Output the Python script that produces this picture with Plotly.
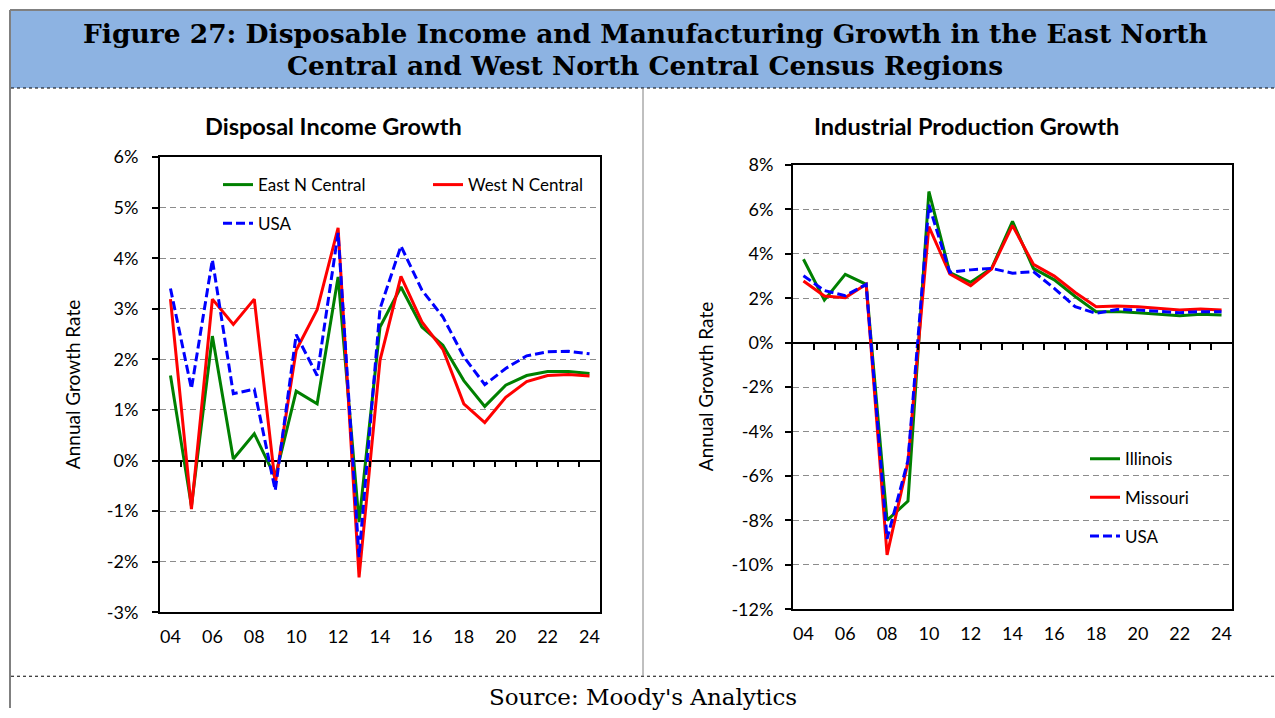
import plotly.graph_objects as go

# ---------------- data ----------------
years = list(range(2004, 2025))
tick_years = list(range(2004, 2025, 2))
tick_labels = ["04", "06", "08", "10", "12", "14", "16", "18", "20", "22", "24"]

# Disposable income growth, % (left panel)
east_n_central = [1.68, -0.90, 2.46, 0.03, 0.53, -0.33, 1.37, 1.12, 3.63, -1.22, 2.64,
                  3.43, 2.64, 2.28, 1.58, 1.07, 1.49, 1.68, 1.76, 1.76, 1.72]
west_n_central = [3.19, -0.96, 3.19, 2.69, 3.19, -0.46, 2.18, 2.98, 4.60, -2.31, 1.98,
                  3.64, 2.74, 2.20, 1.12, 0.75, 1.25, 1.56, 1.68, 1.70, 1.67]
usa_income = [3.40, 1.42, 3.97, 1.32, 1.41, -0.59, 2.49, 1.68, 4.50, -1.91, 3.00,
              4.24, 3.37, 2.84, 2.05, 1.50, 1.82, 2.07, 2.15, 2.16, 2.11]

# Industrial production growth, % (right panel)
illinois = [3.76, 1.92, 3.08, 2.63, -8.00, -7.13, 6.81, 3.16, 2.72, 3.35, 5.46,
            3.35, 2.83, 2.08, 1.40, 1.40, 1.35, 1.28, 1.22, 1.28, 1.25]
missouri = [2.78, 2.10, 2.03, 2.63, -9.55, -5.37, 5.23, 3.10, 2.57, 3.32, 5.28,
            3.53, 3.00, 2.26, 1.62, 1.65, 1.62, 1.55, 1.47, 1.52, 1.47]
usa_ip = [3.02, 2.35, 2.12, 2.63, -8.83, -5.30, 6.21, 3.17, 3.28, 3.35, 3.13,
          3.20, 2.45, 1.62, 1.32, 1.50, 1.47, 1.40, 1.35, 1.40, 1.40]

inc_ticks = list(range(-3, 7))
ip_ticks = list(range(-12, 9, 2))

title_l1 = "Figure 27: Disposable Income and Manufacturing Growth in the East North"
title_l2 = "Central and West North Central Census Regions"
left_title = "Disposal Income Growth"
right_title = "Industrial Production Growth"
y_title = "Annual Growth Rate"
source_text = "Source: Moody's Analytics"

# ---------------- layout helpers ----------------
W, H = 1275, 718
# the page capture adds a small top offset and vertical squeeze; compensate so that
# pixel targets (measured on the reference) land where intended
V_OFF, V_SCALE = 12.0, 0.969


def fx(p):
    return p / W


def fy(p):
    return 1 - ((p - V_OFF) / V_SCALE) / H


GREEN, RED, BLUE = "#008000", "#FF0000", "#0000FF"
FONT = "Lato"
SERIF = "DejaVu Serif"

left_dx = [fx(160), fx(600)]
left_dy = [fy(612), fy(157)]
right_dx = [fx(793), fx(1232)]
right_dy = [fy(609), fy(165)]
inc_range = [-3, 6]
ip_range = [-12, 8]
x_range = [years[0] - 0.5, years[-1] + 0.5]
boundaries = [y + 0.5 for y in years[:-1]]


def zero_pos(dom, rng):
    return dom[0] + (0 - rng[0]) / (rng[1] - rng[0]) * (dom[1] - dom[0])


fig = go.Figure()

dash_usa = "9px,4px"
LW = 3

fig.add_trace(go.Scatter(x=years, y=east_n_central, name="East N Central", mode="lines",
                         line=dict(color=GREEN, width=LW), xaxis="x", yaxis="y",
                         legend="legend", legendgroup="a"))
fig.add_trace(go.Scatter(x=years, y=west_n_central, name="West N Central", mode="lines",
                         line=dict(color=RED, width=LW), xaxis="x", yaxis="y",
                         legend="legend2", legendgroup="b"))
fig.add_trace(go.Scatter(x=years, y=usa_income, name="USA", mode="lines",
                         line=dict(color=BLUE, width=LW, dash=dash_usa), xaxis="x3", yaxis="y",
                         legend="legend", legendgroup="c"))

fig.add_trace(go.Scatter(x=years, y=illinois, name="Illinois", mode="lines",
                         line=dict(color=GREEN, width=LW), xaxis="x2", yaxis="y2",
                         legend="legend3", legendgroup="d"))
fig.add_trace(go.Scatter(x=years, y=missouri, name="Missouri", mode="lines",
                         line=dict(color=RED, width=LW), xaxis="x2", yaxis="y2",
                         legend="legend3", legendgroup="e"))
fig.add_trace(go.Scatter(x=years, y=usa_ip, name="USA", mode="lines",
                         line=dict(color=BLUE, width=LW, dash=dash_usa), xaxis="x4", yaxis="y2",
                         legend="legend3", legendgroup="f"))

tickfont = dict(family=FONT, size=18, color="#000000")


def xaxis_cfg(dom, anchor):
    return dict(domain=dom, anchor=anchor, range=x_range, tickvals=tick_years, ticktext=tick_labels,
                showline=True, mirror=True, linecolor="#000000", linewidth=2, ticks="",
                showgrid=False, zeroline=False, tickfont=tickfont, ticklabelstandoff=7)


def yaxis_cfg(dom, anchor, rng, ticks, standoff):
    return dict(domain=dom, anchor=anchor, range=rng, tickvals=ticks,
                ticktext=[f"{t}%" for t in ticks],
                showline=True, mirror=True, linecolor="#000000", linewidth=2,
                ticks="outside", ticklen=6, tickwidth=1.5, tickcolor="#000000",
                showgrid=True, gridcolor="#8c8c8c", gridwidth=1.2, griddash="6px,4px",
                zeroline=True, zerolinecolor="#000000", zerolinewidth=2,
                tickfont=tickfont, ticklabelstandoff=standoff)


def tickmark_axis(overlay, dom, rng):
    return dict(overlaying=overlay, anchor="free", position=zero_pos(dom, rng), range=x_range,
                tickvals=boundaries, ticks="outside", ticklen=6, tickwidth=1.5, tickcolor="#000000",
                showticklabels=False, showline=False, showgrid=False, zeroline=False, side="bottom")


legend_common = dict(bgcolor="rgba(0,0,0,0)", borderwidth=0, xanchor="left", yanchor="top",
                     font=dict(family=FONT, size=17, color="#000000"), tracegroupgap=13.5,
                     orientation="v")

fig.update_layout(
    width=W, height=H,
    margin=dict(l=0, r=0, t=0, b=0),
    paper_bgcolor="white", plot_bgcolor="white",
    xaxis=xaxis_cfg(left_dx, "y"),
    yaxis=yaxis_cfg(left_dy, "x", inc_range, inc_ticks, 10),
    xaxis2=xaxis_cfg(right_dx, "y2"),
    yaxis2=yaxis_cfg(right_dy, "x2", ip_range, ip_ticks, 8),
    xaxis3=tickmark_axis("x", left_dy, inc_range),
    xaxis4=tickmark_axis("x2", right_dy, ip_range),
    legend=dict(x=fx(218), y=fy(167), **legend_common),
    legend2=dict(x=fx(428), y=fy(167), **legend_common),
    legend3=dict(x=fx(1085), y=fy(441), **legend_common),
    showlegend=True,
)

# page decoration
shapes = [
    dict(type="rect", xref="paper", yref="paper", x0=fx(11), x1=1, y0=fy(88), y1=fy(11),
         fillcolor="#8DB3E2", line=dict(width=0), layer="below"),
    dict(type="line", xref="paper", yref="paper", x0=fx(10), x1=1, y0=fy(10), y1=fy(10),
         line=dict(color="#808080", width=2)),
    dict(type="line", xref="paper", yref="paper", x0=fx(10), x1=fx(10), y0=0, y1=fy(10),
         line=dict(color="#808080", width=2)),
    dict(type="line", xref="paper", yref="paper", x0=fx(11), x1=1, y0=fy(88), y1=fy(88),
         line=dict(color="#000000", width=1, dash="dot")),
    dict(type="line", xref="paper", yref="paper", x0=fx(11), x1=1, y0=fy(676), y1=fy(676),
         line=dict(color="#000000", width=1, dash="dot")),
    dict(type="line", xref="paper", yref="paper", x0=fx(643), x1=fx(643), y0=fy(676), y1=fy(88),
         line=dict(color="#808080", width=1)),
]
fig.update_layout(shapes=shapes)

ann = [
    dict(text=f"<b>{title_l1}</b>", x=fx(645), y=fy(33)),
    dict(text=f"<b>{title_l2}</b>", x=fx(645), y=fy(65)),
]
for a in ann:
    fig.add_annotation(xref="paper", yref="paper", showarrow=False, xanchor="center", yanchor="middle",
                       font=dict(family=SERIF, size=26.5, color="#000000"), **a)

fig.add_annotation(text=source_text, xref="paper", yref="paper", x=fx(643), y=fy(697),
                   showarrow=False, xanchor="center", yanchor="middle",
                   font=dict(family=SERIF, size=23, color="#000000"))

for txt, cx in [(left_title, 333), (right_title, 966)]:
    fig.add_annotation(text=f"<b>{txt}</b>", xref="paper", yref="paper", x=fx(cx), y=fy(126),
                       showarrow=False, xanchor="center", yanchor="middle",
                       font=dict(family=FONT, size=23.5, color="#000000"))

for cx, cy in [(72, 385), (705, 387)]:
    fig.add_annotation(text=y_title, xref="paper", yref="paper", x=fx(cx), y=fy(cy),
                       showarrow=False, xanchor="center", yanchor="middle", textangle=-90,
                       font=dict(family=FONT, size=19, color="#000000"))

fig.write_html(
    "out.html",
    config={"displayModeBar": False},
    post_script=("document.body.style.margin='0';document.body.style.overflow='hidden';"
                 "var gd=document.getElementById('{plot_id}');"
                 "gd.style.position='fixed';gd.style.top='0px';gd.style.left='0px';"),
)
